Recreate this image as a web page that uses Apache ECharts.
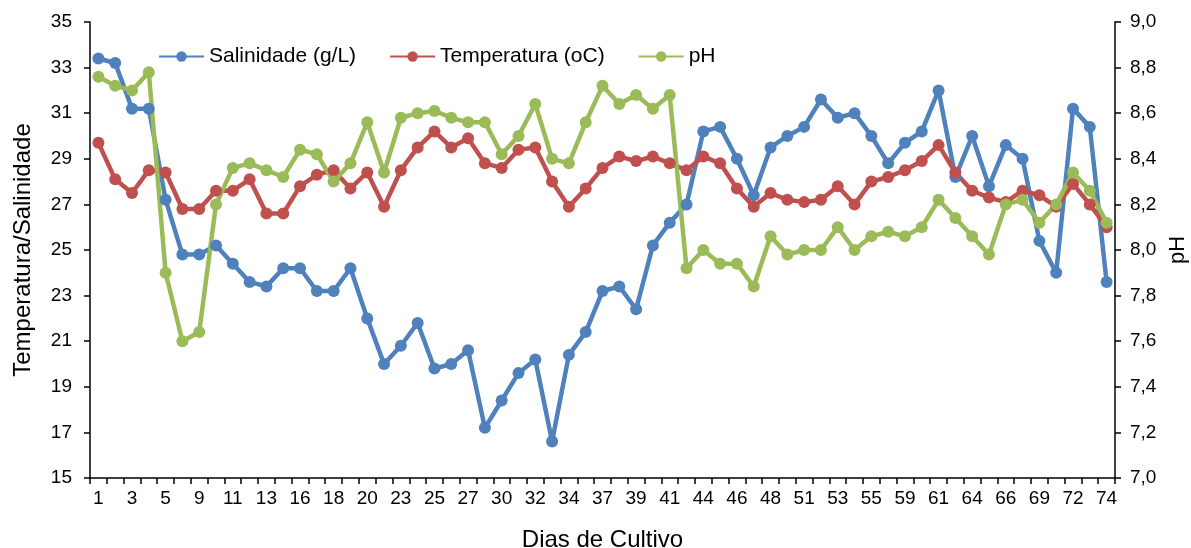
<!DOCTYPE html>
<html>
<head>
<meta charset="utf-8">
<script src="https://cdn.jsdelivr.net/npm/echarts@6/dist/echarts.min.js"></script>
<style>html,body{margin:0;padding:0;background:#fff}#c{width:1191px;height:548px}</style>
</head>
<body>
<div id="c"></div>
<script>
const days = [1,2,3,4,5,8,9,10,11,12,13,15,16,17,18,19,20,22,23,24,25,26,27,29,30,31,32,33,34,36,37,38,39,40,41,43,44,45,46,47,48,50,51,52,53,54,55,57,59,60,61,62,64,65,66,67,69,70,72,73,74];
const salinidade = [33.4,33.2,31.2,31.2,27.2,24.8,24.8,25.2,24.4,23.6,23.4,24.2,24.2,23.2,23.2,24.2,22.0,20.0,20.8,21.8,19.8,20.0,20.6,17.2,18.4,19.6,20.2,16.6,20.4,21.4,23.2,23.4,22.4,25.2,26.2,27.0,30.2,30.4,29.0,27.4,29.5,30.0,30.4,31.6,30.8,31.0,30.0,28.8,29.7,30.2,32.0,28.2,30.0,27.8,29.6,29.0,25.4,24.0,31.2,30.4,23.6];
const temperatura = [29.7,28.1,27.5,28.5,28.4,26.8,26.8,27.6,27.6,28.1,26.6,26.6,27.8,28.3,28.5,27.7,28.4,26.9,28.5,29.5,30.2,29.5,29.9,28.8,28.6,29.4,29.5,28.0,26.9,27.7,28.6,29.1,28.9,29.1,28.8,28.5,29.1,28.8,27.7,26.9,27.5,27.2,27.1,27.2,27.8,27.0,28.0,28.2,28.5,28.9,29.6,28.4,27.6,27.3,27.1,27.6,27.4,26.9,27.9,27.0,26.0];
const ph = [8.76,8.72,8.70,8.78,7.90,7.60,7.64,8.20,8.36,8.38,8.35,8.32,8.44,8.42,8.30,8.38,8.56,8.34,8.58,8.60,8.61,8.58,8.56,8.56,8.42,8.50,8.64,8.40,8.38,8.56,8.72,8.64,8.68,8.62,8.68,7.92,8.00,7.94,7.94,7.84,8.06,7.98,8.00,8.00,8.10,8.00,8.06,8.08,8.06,8.10,8.22,8.14,8.06,7.98,8.20,8.22,8.12,8.20,8.34,8.26,8.12];
const seriesNames = ['Salinidade (g/L)','Temperatura (oC)','pH'];
const colors = ['#4F81BD','#C0504D','#9BBB59'];

const FONT = 'Liberation Sans, Arial, sans-serif';
const chart = echarts.init(document.getElementById('c'), null, {renderer:'canvas'});
const axisLine = {show:true, lineStyle:{color:'#000', width:1.5}};
const mk = (name, data, color, yi) => ({
  name, type:'line', data, yAxisIndex: yi,
  symbol:'circle', symbolSize:12, showSymbol:true, showAllSymbol:true,
  lineStyle:{color, width:4.5}, itemStyle:{color}, emphasis:{disabled:true},
  animation:false
});
chart.setOption({
  animation:false,
  textStyle:{fontFamily:FONT},
  grid:{left:90, right:76, top:22, bottom:70, containLabel:false, outerBoundsMode:'none'},
  legend:{
    top:41, left:153, itemWidth:45, itemHeight:13, itemGap:33,
    textStyle:{fontSize:21, color:'#000', fontFamily:FONT},
    data: seriesNames
  },
  xAxis:{
    type:'category', data: days, boundaryGap:true,
    name:'Dias de Cultivo', nameLocation:'middle', nameGap:50,
    nameTextStyle:{fontSize:24, color:'#000', fontFamily:FONT},
    axisLine, axisTick:{show:true, interval:0, length:6, lineStyle:{color:'#000', width:1.5}},
    axisLabel:{interval:1, fontSize:19, color:'#000', margin:11, fontFamily:FONT},
    splitLine:{show:false}
  },
  yAxis:[
    {type:'value', min:15, max:35, interval:2, position:'left',
     name:'Temperatura/Salinidade', nameLocation:'middle', nameGap:55,
     nameTextStyle:{fontSize:24, color:'#000', fontFamily:FONT},
     axisLine, axisTick:{show:true, length:6, lineStyle:{color:'#000', width:1.5}},
     axisLabel:{fontSize:19, color:'#000', margin:18, fontFamily:FONT},
     splitLine:{show:false}},
    {type:'value', min:7, max:9, interval:0.2, position:'right',
     name:'pH', nameLocation:'middle', nameGap:47,
     nameTextStyle:{fontSize:22, color:'#000', fontFamily:FONT},
     axisLine, axisTick:{show:true, length:6, lineStyle:{color:'#000', width:1.5}},
     axisLabel:{fontSize:19, color:'#000', margin:15, fontFamily:FONT,
       formatter: v => v.toFixed(1).replace('.', ',')},
     splitLine:{show:false}}
  ],
  series:[
    mk(seriesNames[0], salinidade, colors[0], 0),
    mk(seriesNames[1], temperatura, colors[1], 0),
    mk(seriesNames[2], ph, colors[2], 1)
  ]
});
</script>
</body>
</html>
